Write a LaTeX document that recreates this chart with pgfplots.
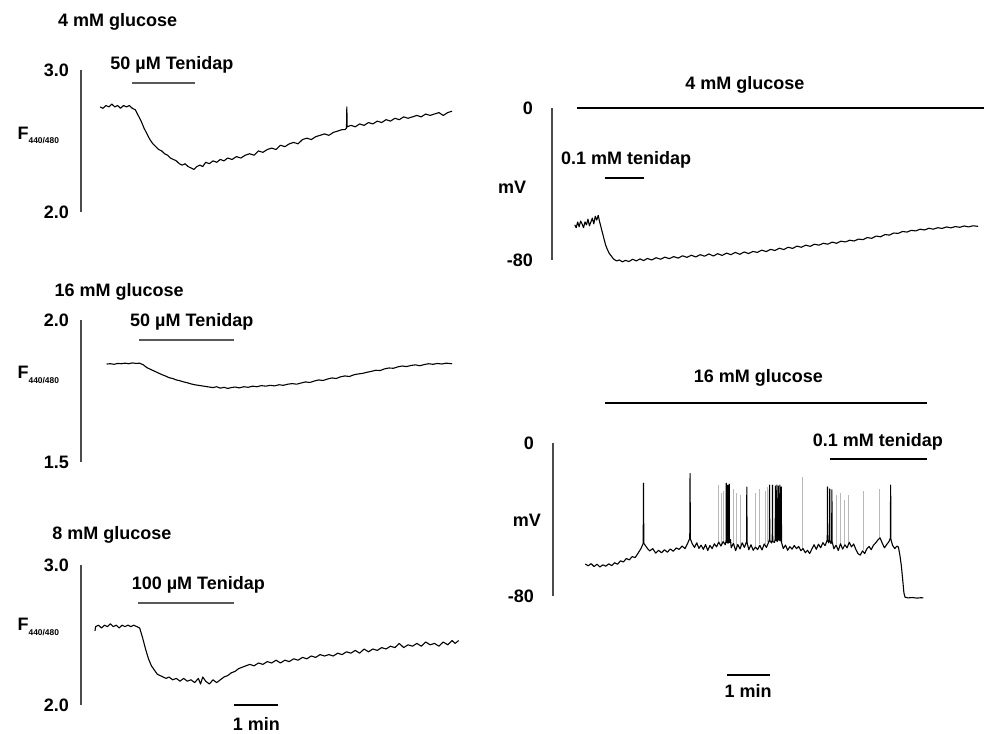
\documentclass[border=0pt]{standalone}
\usepackage{fontspec}
\setmainfont{Liberation Sans}
\usepackage{pgfplots}
\pgfplotsset{compat=1.18}

\newcommand\lbl{\fontsize{9}{10}\selectfont\bfseries}
\newcommand\Flab{F{\fontsize{4.2}{4.2}\selectfont\raisebox{-2.2pt}{440/480}}}

\pgfplotsset{
  trace/.style={
    x=0.36667pt, xmin=0, anchor=south west,
    axis x line=none, axis y line=left,
    y axis line style={-, line width=0.75pt, black!70},
    major tick length=0pt, xtick=\empty,
    yticklabel style={font=\lbl, xshift=-2.5pt},
    clip=false,
  },
  sig/.style={black, line width=0.55pt, line join=round},
  drug/.style={black!65, line width=0.8pt},
}

\begin{document}
\begin{tikzpicture}[every node/.style={font=\lbl}]

% ---- 4 mM glucose, fluorescence
\begin{axis}[trace, at={(40.5pt,260.5pt)}, y=71pt, xmax=520, ymin=2, ymax=3,
  ytick={2,3}, yticklabels={2.0,3.0}]
\addplot[sig] coordinates {(26,2.74)(30,2.73)(34,2.75)(38,2.74)(42,2.76)(46,2.74)(50,2.75)(54,2.73)(58,2.75)(62,2.74)(66,2.75)(70,2.73)(74,2.72)(78,2.68)(82,2.64)(86,2.59)(90,2.55)(94,2.51)(98,2.48)(102,2.46)(106,2.44)(110,2.43)(114,2.41)(118,2.40)(122,2.38)(126,2.37)(130,2.36)(134,2.34)(138,2.33)(142,2.34)(146,2.32)(150,2.31)(154,2.30)(158,2.32)(162,2.33)(166,2.32)(170,2.35)(175,2.34)(180,2.36)(185,2.35)(190,2.37)(195,2.36)(200,2.38)(206,2.37)(212,2.39)(218,2.38)(224,2.40)(230,2.41)(236,2.40)(242,2.43)(248,2.42)(254,2.44)(260,2.45)(266,2.44)(272,2.47)(278,2.46)(284,2.48)(290,2.49)(296,2.48)(302,2.51)(308,2.52)(314,2.51)(320,2.53)(326,2.54)(332,2.55)(338,2.54)(344,2.56)(350,2.57)(356,2.58)(360,2.58)(362,2.59)(362.5,2.74)(363,2.60)(368,2.61)(374,2.60)(380,2.62)(386,2.61)(392,2.63)(398,2.62)(404,2.64)(410,2.63)(416,2.65)(422,2.64)(428,2.66)(434,2.65)(440,2.67)(446,2.66)(452,2.67)(458,2.68)(464,2.67)(470,2.69)(476,2.68)(482,2.69)(488,2.70)(494,2.68)(500,2.70)(506,2.71)};
\addplot[drug] coordinates {(70,2.91)(155,2.91)};
\node at (axis cs:50,3.34) {4 mM glucose};
\node at (axis cs:124,3.035) {50 µM Tenidap};
\node[anchor=west, inner sep=0pt] at (axis cs:-87,2.54) {\Flab};
\end{axis}

% ---- 16 mM glucose, fluorescence
\begin{axis}[trace, at={(40.5pt,135.5pt)}, y=142pt, xmax=520, ymin=1.5, ymax=2,
  ytick={1.5,2}, yticklabels={1.5,2.0}]
\addplot[sig] coordinates {(35,1.845)(40,1.846)(45,1.844)(50,1.847)(55,1.846)(60,1.848)(65,1.846)(70,1.849)(75,1.847)(80,1.848)(85,1.842)(90,1.832)(95,1.826)(100,1.82)(105,1.814)(110,1.808)(115,1.803)(120,1.797)(125,1.794)(130,1.789)(135,1.786)(140,1.782)(145,1.779)(150,1.775)(155,1.772)(160,1.770)(165,1.768)(170,1.766)(175,1.764)(180,1.762)(185,1.765)(190,1.760)(195,1.763)(200,1.759)(205,1.762)(210,1.764)(216,1.761)(222,1.765)(228,1.763)(234,1.767)(240,1.765)(246,1.769)(252,1.767)(258,1.770)(264,1.768)(270,1.772)(276,1.770)(282,1.774)(288,1.776)(294,1.774)(300,1.778)(306,1.782)(312,1.780)(318,1.785)(324,1.789)(330,1.787)(336,1.792)(342,1.796)(348,1.794)(354,1.800)(360,1.803)(366,1.801)(372,1.807)(378,1.810)(384,1.812)(390,1.816)(396,1.819)(402,1.823)(408,1.822)(414,1.828)(420,1.831)(426,1.830)(432,1.835)(438,1.838)(444,1.836)(450,1.840)(456,1.842)(462,1.839)(468,1.843)(474,1.846)(480,1.844)(486,1.847)(492,1.845)(498,1.848)(506,1.846)};
\addplot[drug] coordinates {(79,1.93)(209,1.93)};
\node at (axis cs:52,2.099) {16 mM glucose};
\node at (axis cs:151,1.993) {50 µM Tenidap};
\node[anchor=west, inner sep=0pt] at (axis cs:-87,1.806) {\Flab};
\end{axis}

% ---- 8 mM glucose, fluorescence
\begin{axis}[trace, at={(40.5pt,14pt)}, y=70pt, xmax=520, ymin=2, ymax=3,
  ytick={2,3}, yticklabels={2.0,3.0}]
\addplot[sig] coordinates {(19,2.53)(20,2.56)(24,2.57)(28,2.55)(32,2.57)(36,2.56)(40,2.58)(44,2.56)(48,2.57)(52,2.55)(56,2.57)(60,2.56)(64,2.57)(68,2.56)(72,2.57)(76,2.56)(80,2.55)(84,2.48)(88,2.40)(92,2.33)(96,2.28)(100,2.25)(104,2.22)(108,2.21)(112,2.20)(116,2.19)(120,2.20)(125,2.18)(130,2.19)(135,2.17)(140,2.19)(145,2.17)(150,2.18)(155,2.16)(160,2.19)(163,2.15)(166,2.20)(170,2.17)(175,2.15)(180,2.18)(185,2.16)(190,2.18)(195,2.20)(200,2.21)(205,2.23)(210,2.24)(215,2.26)(220,2.27)(225,2.28)(230,2.29)(236,2.28)(242,2.30)(248,2.29)(254,2.31)(260,2.30)(266,2.32)(272,2.30)(278,2.32)(284,2.31)(290,2.33)(296,2.32)(302,2.34)(308,2.33)(314,2.35)(320,2.34)(326,2.36)(332,2.35)(338,2.36)(344,2.35)(350,2.37)(356,2.36)(362,2.38)(368,2.37)(374,2.39)(380,2.37)(386,2.40)(392,2.38)(398,2.40)(404,2.39)(410,2.41)(416,2.40)(422,2.42)(428,2.41)(434,2.44)(440,2.41)(446,2.43)(452,2.42)(458,2.44)(464,2.42)(470,2.45)(476,2.43)(482,2.44)(488,2.42)(494,2.45)(500,2.43)(506,2.46)(510,2.44)(515,2.46)};
\addplot[drug] coordinates {(78,2.73)(209,2.73)};
\addplot[black, line width=0.8pt] coordinates {(209,2.0)(269,2.0)};
\node at (axis cs:42,3.214) {8 mM glucose};
\node at (axis cs:160,2.857) {100 µM Tenidap};
\node[anchor=west, inner sep=0pt] at (axis cs:-87,2.557) {\Flab};
\node at (axis cs:239,1.865) {1 min};
\end{axis}

% ---- 4 mM glucose, membrane potential
\begin{axis}[trace, at={(276pt,236.5pt)}, y=0.95pt, xmax=590, ymin=-80, ymax=0,
  ytick={-80,0}, yticklabels={-80,0}, yticklabel style={xshift=-3.5pt}]
\addplot[sig] coordinates {(31,-61.5)(33,-63)(35,-60)(37,-62.5)(39,-59.5)(41,-61)(43,-63)(45,-60)(47,-61.5)(49,-58.5)(51,-62)(53,-60)(55,-58)(57,-61)(59,-57)(61,-59)(63,-56.5)(65,-60)(67,-63)(69,-66)(71,-69)(73,-72)(75,-74)(78,-76.5)(81,-78)(84,-79.5)(88,-80.5)(92,-80)(96,-81)(100,-80.2)(105,-80.8)(110,-79.6)(115,-80.5)(120,-79.4)(125,-80.3)(130,-79.2)(136,-80)(142,-78.8)(148,-79.6)(154,-78.5)(160,-79.3)(166,-78.2)(172,-79)(178,-77.8)(184,-78.6)(190,-77.5)(196,-78.4)(202,-77.2)(208,-78)(214,-76.8)(220,-77.9)(226,-76.7)(232,-77.6)(238,-76.4)(244,-77.2)(250,-76)(256,-77)(262,-75.8)(268,-76.6)(274,-75.5)(280,-76)(286,-74.8)(292,-75.6)(298,-74.4)(304,-75)(310,-73.8)(316,-74.5)(322,-73.3)(328,-73.9)(334,-72.7)(340,-73.3)(346,-72.2)(352,-72.8)(358,-71.7)(364,-72.2)(370,-71.2)(376,-71.7)(382,-70.6)(388,-71.2)(394,-70.1)(400,-70.5)(406,-69.6)(412,-70)(418,-69)(424,-69.3)(430,-68.2)(436,-68.6)(442,-67.4)(448,-67.8)(454,-66.6)(460,-66.9)(466,-65.8)(472,-66)(478,-65)(484,-65.3)(490,-64.4)(496,-64.7)(502,-63.8)(508,-64.2)(514,-63.3)(520,-63.8)(526,-63)(532,-63.4)(538,-62.6)(544,-63.1)(550,-62.4)(556,-62.8)(562,-62.1)(568,-62.6)(574,-62)(581,-62.3)};
\addplot[black, line width=1.4pt] coordinates {(34,0)(589,0)};
\addplot[black, line width=1.1pt] coordinates {(72,-36.8)(125,-36.8)};
\node at (axis cs:263,12.1) {4 mM glucose};
\node at (axis cs:101,-27.4) {0.1 mM tenidap};
\node at (axis cs:-54.5,-41.6) {mV};
\end{axis}

% ---- 16 mM glucose, membrane potential
\begin{axis}[trace, at={(276.5pt,68.5pt)}, y=0.95625pt, xmax=590, ymin=-80, ymax=0,
  ytick={-80,0}, yticklabels={-80,0}, yticklabel style={xshift=-3.5pt}]
\addplot[gray!55, line width=0.4pt, unbounded coords=jump] coordinates {(225,-53)(225,-22)(225,nan)(229,-54)(229,-26)(229,nan)(232,-52)(232,-25)(232,nan)(246,-52)(246,-24)(246,nan)(250,-55)(250,-26)(250,nan)(256,-54)(256,-27)(256,nan)(276,-54)(276,-26)(276,nan)(282,-53)(282,-24)(282,nan)(289,-53)(289,-25)(289,nan)(292,-52)(292,-23)(292,nan)(340,-56)(340,-18)(340,nan)(386,-53)(386,-27)(386,nan)(392,-53)(392,-26)(392,nan)(398,-53)(398,-30)(398,nan)(403,-52)(403,-27)(403,nan)(423,-56)(423,-25)(423,nan)(445,-50)(445,-24)};
\addplot[sig] coordinates {(44,-63.3)(48,-64.2)(52,-63.1)(56,-64.6)(60,-63.4)(64,-64.8)(68,-63.7)(72,-64.4)(76,-63.2)(80,-64.1)(84,-62.6)(88,-63.4)(92,-61.6)(96,-62.2)(100,-60.4)(104,-61.1)(108,-59.4)(112,-59.9)(116,-57.6)(120,-55.2)(123,-52.5)(123.4,-21)(123.8,-52.4)(126,-53.6)(129,-55.3)(132,-56.4)(136,-55.2)(140,-57.6)(144,-56.1)(148,-57.4)(152,-55.8)(156,-57.1)(160,-55.4)(164,-56.6)(168,-54.9)(172,-55.6)(176,-53.9)(180,-55.2)(184,-52.1)(186.5,-49.8)(186.9,-16)(187.3,-50.2)(190,-52.8)(193,-54.6)(196,-52.2)(199,-55.1)(202,-53.4)(205,-55.6)(208,-53.1)(211,-56.2)(214,-53.6)(217,-55.2)(220,-52.7)(223,-54.3)(226,-51.8)(229,-53.9)(232,-51.6)(235,-53.2)(236,-51)(236.3,-21)(236.6,-52)(238,-51.5)(238.3,-22)(238.6,-52.5)(240,-51.2)(240.3,-21.5)(240.6,-52)(242,-50.5)(243,-54.8)(246,-52.4)(249,-56.3)(252,-53.1)(255,-55.4)(258,-52.2)(261,-54.6)(264,-51.5)(264.3,-23)(264.6,-52)(267,-55.8)(270,-53.2)(273,-56.1)(276,-54.4)(279,-55.7)(282,-53.5)(285,-55.9)(288,-52.8)(291,-54.6)(294,-51.9)(295,-50.5)(295.3,-22)(295.6,-51)(298,-52.3)(299,-50.6)(299.3,-22)(299.6,-51.5)(302,-52)(303,-50.2)(303.3,-22.5)(303.6,-50.8)(305,-51)(305.3,-22)(305.6,-51.6)(307,-50.2)(307.3,-22.5)(307.6,-50.5)(309,-50.8)(309.3,-22)(309.6,-51.2)(311,-50.5)(311.3,-23)(311.6,-52)(314,-55.2)(317,-53.4)(320,-56.1)(323,-54.2)(326,-55.5)(329,-53.6)(332,-55.2)(335,-54.1)(338,-56.3)(341,-55.2)(344,-57.4)(347,-56.1)(350,-57.8)(353,-55.4)(356,-53.2)(359,-55.6)(362,-52.9)(365,-54.8)(368,-52.1)(371,-53.7)(374,-50.6)(374.3,-23)(374.6,-51)(376,-52.2)(377,-50.4)(377.3,-24)(377.6,-51)(379,-52.6)(380,-50.8)(380.3,-24.5)(380.6,-51.5)(383,-55.3)(386,-53.4)(389,-56.2)(392,-52.7)(395,-55.5)(398,-53.2)(401,-54.8)(404,-51.9)(407,-54.3)(410,-52.8)(413,-55.7)(416,-57.9)(419,-58.6)(422,-56.4)(425,-57.8)(428,-55.3)(431,-54.1)(434,-55.8)(437,-53.4)(440,-52.2)(443,-50.7)(446,-49.6)(449,-52.4)(452,-54.8)(455,-53.1)(458,-51.6)(460,-49.8)(460.4,-22)(460.8,-50.4)(463,-53.5)(466,-55.2)(469,-53.9)(471,-54.4)(473,-58.6)(475,-64.2)(477,-72.1)(478.5,-78.4)(480,-80.6)(484,-81)(490,-80.8)(496,-81.1)(502,-80.9)(505,-81)};
\addplot[black, line width=1.4pt] coordinates {(71,20.9)(510,20.9)};
\addplot[black, line width=1.1pt] coordinates {(378,-8.4)(510,-8.4)};
\addplot[black, line width=1.1pt] coordinates {(237,-121.3)(296,-121.3)};
\node at (axis cs:280,34) {16 mM glucose};
\node at (axis cs:443,0.5) {0.1 mM tenidap};
\node at (axis cs:-35.5,-40.3) {mV};
\node at (axis cs:266,-129.7) {1 min};
\end{axis}

\pgfresetboundingbox
\path[use as bounding box] (0,0) rectangle (492pt,366.5pt);
\end{tikzpicture}
\end{document}
